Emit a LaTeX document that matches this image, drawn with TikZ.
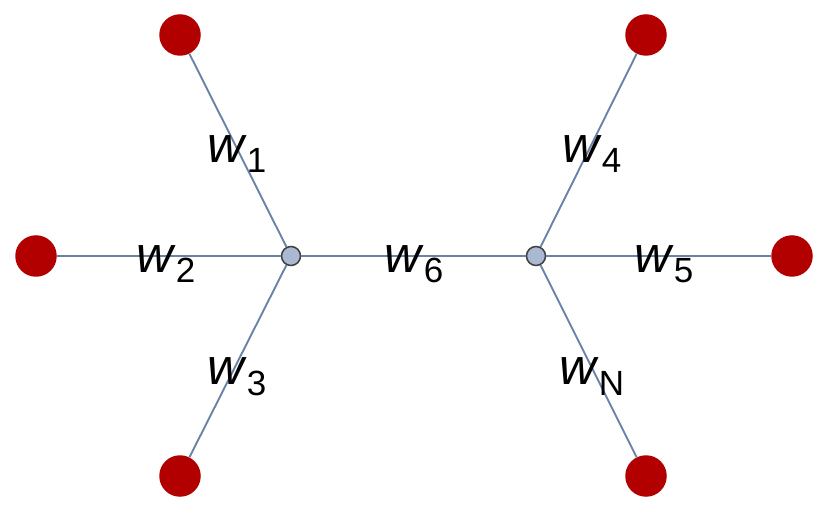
\documentclass[tikz,border=0pt]{standalone}
\usepackage{fontspec}
\setmainfont{Liberation Sans}
\definecolor{leafred}{HTML}{B20000}
\definecolor{hubfill}{HTML}{A9B9D2}
\definecolor{edgeblue}{HTML}{6B82A8}
\newcommand{\wsub}[1]{\textit{w}\raisebox{-10pt}{\fontsize{35}{35}\selectfont #1}}
\begin{document}
\begin{tikzpicture}[x=1pt,y=-1pt,
		leaf/.style={circle,fill=leafred,minimum size=41.5pt,inner sep=0pt},
		hub/.style={circle,draw=black!75,fill=hubfill,line width=1.5pt,minimum size=19pt,inner sep=0pt},
		edge/.style={draw=edgeblue,line width=1.9pt},
		wlab/.style={anchor=base west,inner sep=0pt,font=\fontsize{51}{60}\selectfont}]
		\useasboundingbox (0,0) rectangle (830,518);
		\node[hub](hl) at (291,256) {};
		\node[hub](hr) at (536,256) {};
		\node[leaf](l1) at (180,35) {};
		\node[leaf](l2) at (36,256) {};
		\node[leaf](l3) at (180,476) {};
		\node[leaf](l4) at (646,35) {};
		\node[leaf](l5) at (792,256) {};
		\node[leaf](l6) at (646,476) {};
		\draw[edge] (hl) -- (l1);
		\draw[edge] (hl) -- (l2);
		\draw[edge] (hl) -- (l3);
		\draw[edge] (hl) -- (hr);
		\draw[edge] (hr) -- (l4);
		\draw[edge] (hr) -- (l5);
		\draw[edge] (hr) -- (l6);
		\node[wlab](w1) at (207,163) {\wsub{1}};
		\node[wlab](w2) at (136,273) {\wsub{2}};
		\node[wlab](w3) at (207,385) {\wsub{3}};
		\node[wlab](w6) at (384,273) {\wsub{6}};
		\node[wlab](w4) at (562,163) {\wsub{4}};
		\node[wlab](w5) at (634,273) {\wsub{5}};
		\node[wlab](wn) at (559,385) {\wsub{N}};
	\end{tikzpicture}
\end{document}
